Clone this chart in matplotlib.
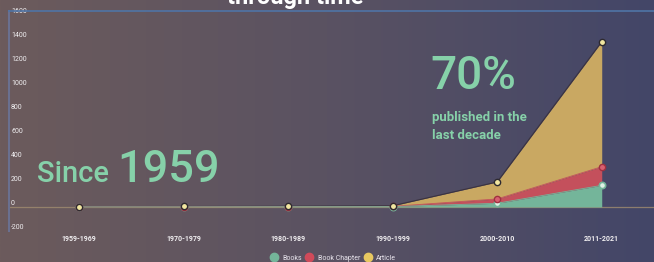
import numpy as np
import matplotlib
matplotlib.use("Agg")
import matplotlib.pyplot as plt
from matplotlib.lines import Line2D
from matplotlib.colors import LinearSegmentedColormap

plt.rcParams['font.family'] = ['Roboto', 'DejaVu Sans']

decades = ["1959-1969", "1970-1979", "1980-1989", "1990-1999", "2000-2010", "2011-2021"]
books = [1, 1, 2, 3, 31, 180]
book_chapter = [1, 1, 1, 2, 36, 155]
article = [1, 2, 3, 5, 141, 1040]
yticks = [-200, 0, 200, 400, 600, 800, 1000, 1200, 1400, 1600]

c_books = "#74b59a"
c_chap = "#c4505c"
c_art = "#c9a862"

fig = plt.figure(figsize=(6.54, 2.62), dpi=100)

# gradient background
bg = fig.add_axes([0, 0, 1, 1], zorder=-1)
cmap = LinearSegmentedColormap.from_list("bg", ["#6c5b5c", "#5a5262", "#434668"])
bg.imshow(np.linspace(0, 1, 256).reshape(1, -1), aspect="auto", cmap=cmap,
          extent=[0, 1, 0, 1])
bg.axis("off")

ax = fig.add_axes([9 / 654, 1 - 231.5 / 262, 1 - 9 / 654, (231.5 - 10.7) / 262])
ax.patch.set_alpha(0)

x = np.arange(len(decades))
b = np.array(books)
c = b + np.array(book_chapter)
a = c + np.array(article)

ax.axhline(0, color="#a08c70", lw=0.9, alpha=0.8, zorder=1)
ax.fill_between(x, c, a, color=c_art, lw=0, zorder=2)
ax.fill_between(x, b, c, color=c_chap, lw=0, zorder=3)
ax.fill_between(x, 0, b, color=c_books, lw=0, zorder=4)
ax.plot(x, a, color="#3b3340", lw=0.8, zorder=5)
ax.plot(x, c, color=c_chap, lw=0.6, zorder=5)
ax.plot(x, b, color=c_books, lw=0.6, zorder=5)
ax.plot(x, b, 'o', ms=4.5, mfc="#dff2e6", mec=c_books, mew=1.2, zorder=6)
ax.plot(x, c, 'o', ms=4.5, mfc="#d86070", mec="#a03040", mew=1.0, zorder=7)
ax.plot(x, a, 'o', ms=4.5, mfc="#f2e6a0", mec="#2e2a30", mew=1.0, zorder=8)

ax.set_xlim(-0.67, 5.50)
ax.set_ylim(-204, 1633)
ax.set_xticks(x)
ax.set_xticklabels(decades, fontsize=5, color="#f0eef0", fontweight="bold")
ax.set_yticks(yticks)
ax.set_yticklabels([str(v) for v in yticks], fontsize=5, color="#f0eef0")
ax.tick_params(axis="x", length=0, pad=2.5)
ax.tick_params(axis="y", length=0, pad=-1.5)
for t in ax.get_yticklabels():
    t.set_horizontalalignment("left")
    t.set_verticalalignment("bottom")
for s in ["right", "bottom"]:
    ax.spines[s].set_visible(False)
ax.spines["left"].set_color("#6a7090")
ax.spines["left"].set_linewidth(1.5)
ax.spines["top"].set_color("#4f74a6")
ax.spines["top"].set_linewidth(1.2)

green = "#86d1a9"
fig.text(37 / 654, 1 - 182 / 262, "Since", fontsize=21, color=green,
         fontweight="medium", va="baseline")
fig.text(117 / 654, 1 - 182 / 262, "1959", fontsize=32.5, color=green,
         fontweight="medium", va="baseline")
fig.text(430 / 654, 1 - 89 / 262, "70%", fontsize=33, color=green,
         fontweight="medium", va="baseline")
fig.text(432 / 654, 1 - 121 / 262, "published in the", fontsize=9.5, color=green,
         fontweight="bold", va="baseline")
fig.text(432 / 654, 1 - 139 / 262, "last decade", fontsize=9.5, color=green,
         fontweight="bold", va="baseline")
fig.text(295 / 654, 1 - 4 / 262, "through time", fontsize=17, color="white",
         fontweight="bold", ha="center", va="baseline")

handles = [Line2D([], [], ls="", marker="o", ms=6, mfc=col, mec=col)
           for col in [c_books, "#d04a5a", "#e8c860"]]
fig.legend(handles, ["Books", "Book Chapter", "Article"], loc="center",
           bbox_to_anchor=(333 / 654, 1 - 258 / 262), ncol=3, frameon=False,
           fontsize=5, labelcolor="#e8e4ec", handletextpad=0.7, columnspacing=0.6,
           handlelength=1.0)

fig.savefig("out.png", dpi=100)
